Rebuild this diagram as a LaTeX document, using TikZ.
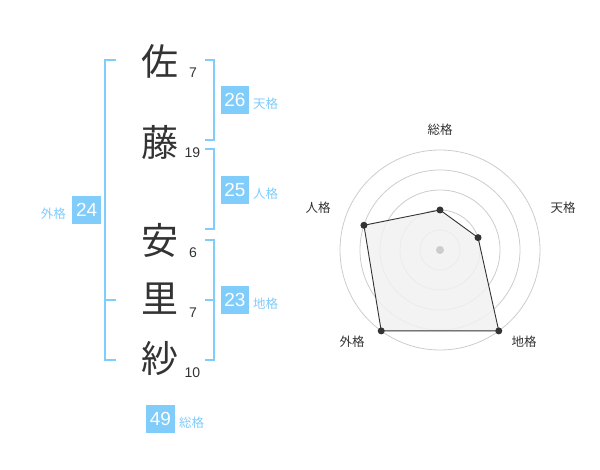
\documentclass[tikz,border=0pt]{standalone}
\usepackage{fontspec}
\setmainfont{Liberation Sans}
\newfontfamily\jpfont{Noto Sans CJK JP}
\definecolor{kblue}{RGB}{128,204,250}
\definecolor{kdark}{RGB}{51,51,51}
\definecolor{kgrid}{RGB}{204,204,204}
\definecolor{kfill}{RGB}{241,241,241}
\begin{document}
\begin{tikzpicture}[x=1pt,y=-1pt,
  kanji/.style={font=\jpfont\fontsize{37}{37}\selectfont, text=kdark, inner sep=0pt},
  strokes/.style={font=\fontsize{14}{14}\selectfont, text=kdark, inner sep=0pt},
  numbox/.style={fill=kblue, text=white, font=\fontsize{19}{19}\selectfont, minimum width=28.5pt, minimum height=28.5pt, inner sep=0pt},
  kaku/.style={font=\jpfont\fontsize{12.5}{12.5}\selectfont, text=kblue, inner sep=0pt},
  brk/.style={draw=kblue, line width=2pt},
  rlabel/.style={font=\jpfont\fontsize{12.5}{12.5}\selectfont, text=kdark, inner sep=0pt},
  ring/.style={draw=kgrid, line width=0.8pt},
  dot/.style={circle, fill=kdark, inner sep=0pt, minimum size=7pt}
]
\useasboundingbox (0,0) rectangle (600,470);
% kanji
\node[kanji] (k1) at (160,61) {佐};
\node[kanji] (k2) at (160,142) {藤};
\node[kanji] (k3) at (160,240) {安};
\node[kanji] (k4) at (160,299) {里};
\node[kanji] (k5) at (160,358) {紗};
% strokes
\node[strokes] (s1) at (193,72.5) {7};
\node[strokes] (s2) at (192.5,152.5) {19};
\node[strokes] (s3) at (193,252.5) {6};
\node[strokes] (s4) at (193,312.5) {7};
\node[strokes] (s5) at (192.5,372.5) {10};
% right brackets
\coordinate (t1) at (205,60); \coordinate (t2) at (205,140);
\draw[brk] (t1) -- ++(9,0) |- (t2);
\coordinate (j1) at (205,149); \coordinate (j2) at (205,229);
\draw[brk] (j1) -- ++(9,0) |- (j2);
\coordinate (c1) at (205,240); \coordinate (c2) at (205,300); \coordinate (c3) at (205,360);
\draw[brk] (c1) -- ++(9,0) |- (c3);
\draw[brk] (c2) -- ++(9,0);
% left bracket
\coordinate (g1) at (116,60); \coordinate (g2) at (116,300); \coordinate (g3) at (116,360);
\draw[brk] (g1) -- ++(-11,0) |- (g3);
\draw[brk] (g2) -- ++(-11,0);
% boxes
\node[numbox] (b26) at (235,100) {26};
\node[kaku, anchor=west] (l26) at (253,104) {天格};
\node[numbox] (b25) at (235,190) {25};
\node[kaku, anchor=west] (l25) at (253,194) {人格};
\node[numbox] (b23) at (235,300) {23};
\node[kaku, anchor=west] (l23) at (253,304) {地格};
\node[numbox] (b24) at (86.7,210) {24};
\node[kaku, anchor=east] (l24) at (66,213.5) {外格};
\node[numbox] (b49) at (160.5,419) {49};
\node[kaku, anchor=west] (l49) at (179,423) {総格};
% radar
\coordinate (O) at (440,250);
\foreach \r in {20,40,60,80,100} \draw[ring] (O) circle (\r);
\path (O) ++(0,-40) coordinate (pS);
\path (O) ++(38.04,-12.36) coordinate (pT);
\path (O) ++(58.78,80.90) coordinate (pC);
\path (O) ++(-58.78,80.90) coordinate (pG);
\path (O) ++(-76.08,-24.72) coordinate (pJ);
\draw[kdark, line width=0.9pt, fill=kfill, fill opacity=0.85] (pS) -- (pT) -- (pC) -- (pG) -- (pJ) -- cycle;
\node[circle, fill=kgrid, inner sep=0pt, minimum size=8pt] (cen) at (O) {};
\node[dot] (dS) at (pS) {};
\node[dot] (dT) at (pT) {};
\node[dot] (dC) at (pC) {};
\node[dot] (dG) at (pG) {};
\node[dot] (dJ) at (pJ) {};
\node[rlabel] (rS) at (440,130) {総格};
\node[rlabel] (rT) at (563,208) {天格};
\node[rlabel] (rJ) at (318,208) {人格};
\node[rlabel] (rG) at (352,342) {外格};
\node[rlabel] (rC) at (524,342) {地格};
\end{tikzpicture}
\end{document}
